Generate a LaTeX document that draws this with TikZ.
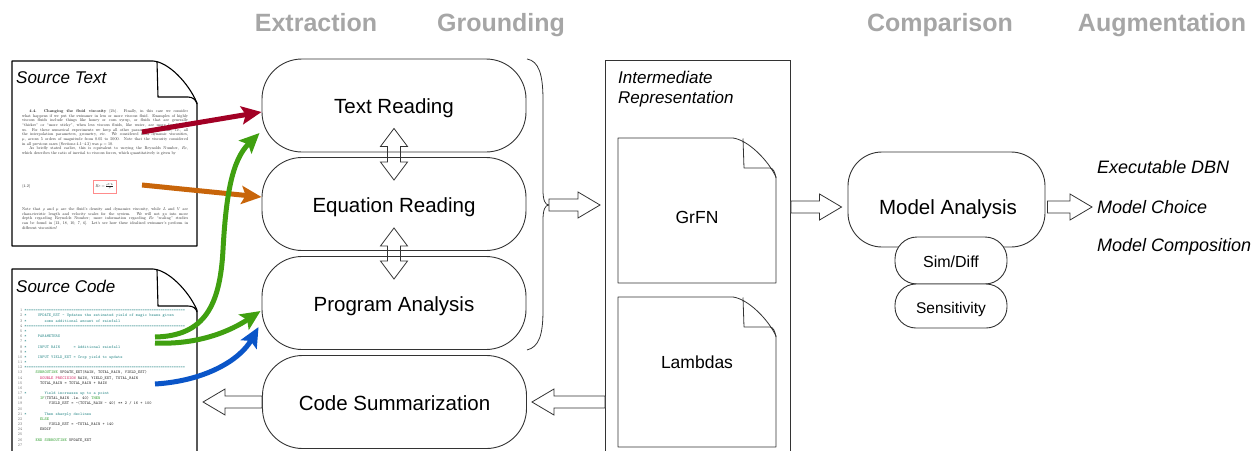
\documentclass[tikz,border=0pt]{standalone}
\usepackage{fontspec}
\usepackage{array}
\newfontfamily\arialf{Liberation Sans}
\usetikzlibrary{arrows.meta,calc}
\pgfdeclarelayer{background}
\pgfsetlayers{background,main}
\definecolor{hdr}{HTML}{A6A6A6}
\definecolor{arrred}{HTML}{A20025}
\definecolor{arrorange}{HTML}{C8650A}
\definecolor{arrgreen}{HTML}{40A010}
\definecolor{arrblue}{HTML}{0A55C8}
\definecolor{cmtc}{HTML}{2E8B8B}
\definecolor{kwg}{HTML}{2E9E2E}
\definecolor{kwr}{HTML}{D02060}
\definecolor{edge}{HTML}{333333}
\newcommand\csp[1]{\hspace*{#1\fontdimen2\font}}
\newcommand\eqten{==========}
\newcommand\eqs{\eqten\eqten\eqten\eqten\eqten\eqten\eqten=}
\newcommand\hollowh[2]{%
  \draw[hollow] let \p1=#1, \p2=#2, \n1={(\x2>\x1)?22:-22} in
    ({\x1},{\y1+6pt}) -- ({\x2-\n1*1pt},{\y1+6pt}) -- ({\x2-\n1*1pt},{\y1+13pt}) -- ({\x2},{\y1})
    -- ({\x2-\n1*1pt},{\y1-13pt}) -- ({\x2-\n1*1pt},{\y1-6pt}) -- ({\x1},{\y1-6pt}) -- cycle;}
\newcommand\hollowv[2]{%
  \draw[hollow] let \p1=#1, \p2=#2 in
    ({\x1},{\y1}) -- ({\x1+13.5pt},{\y1-18pt}) -- ({\x1+6.5pt},{\y1-18pt}) -- ({\x1+6.5pt},{\y2+18pt})
    -- ({\x1+13.5pt},{\y2+18pt}) -- ({\x1},{\y2}) -- ({\x1-13.5pt},{\y2+18pt}) -- ({\x1-6.5pt},{\y2+18pt})
    -- ({\x1-6.5pt},{\y1-18pt}) -- ({\x1-13.5pt},{\y1-18pt}) -- cycle;}
\begin{document}
\begin{tikzpicture}[x=1pt,y=-1pt,
  stage/.style={draw=edge, line width=0.9pt, rounded corners=40pt, minimum width=264pt, minimum height=93pt, inner sep=0pt, font=\arialf\fontsize{20.5}{24}\selectfont, text height=16pt, text depth=0pt},
  hdrlab/.style={anchor=base, font=\arialf\bfseries\fontsize{25}{30}\selectfont, text=hdr, inner sep=0pt},
  doclab/.style={anchor=base west, font=\arialf\itshape\fontsize{17}{20}\selectfont, inner sep=0pt},
  outlab/.style={anchor=base west, font=\arialf\itshape\fontsize{18}{21}\selectfont, inner sep=0pt},
  plainlab/.style={anchor=base, inner sep=0pt},
  tinytext/.style={inner sep=0pt, scale=0.41, transform shape, font=\fontsize{10}{11.34}\selectfont, text=black!88},
  docline/.style={draw=black, line width=1.1pt, fill=white, line join=round},
  notedoc/.style={draw=edge, line width=0.8pt, fill=white, line join=round},
  hollow/.style={draw=edge, line width=0.8pt, fill=white, line join=miter},
  flow/.style={line width=5pt, -{Stealth[length=20pt,width=18pt,inset=4pt]}},
  subbox/.style={draw=edge, line width=0.9pt, fill=white, rounded corners=21pt, minimum width=112pt, inner sep=0pt}
]
\useasboundingbox (0,0) rectangle (1256,450);

% headers
\node[hdrlab] (hx) at (316,31) {Extraction};
\node[hdrlab] (hg) at (501,31) {Grounding};
\node[hdrlab] (hc) at (940,31) {Comparison};
\node[hdrlab] (ha) at (1162,31) {Augmentation};

% source text document
\draw[docline] (12,61) -- (153,61) .. controls (168,62) and (188,82) .. (197,103) -- (197,246) -- (12,246) -- cycle;
\draw[docline, fill=none] (157,61.5) -- (158,97) -- (188,97) .. controls (193,97) and (196,100) .. (197,104);
\node[doclab] (stl) at (16,83) {Source Text};
\node[tinytext, anchor=north west, text width=405pt, align=justify] (para1) at (22,109.5) {%
\hspace*{18pt}\textbf{4.4. Changing the fluid viscosity} (2b). Finally, in this case we consider\linebreak
what happens if we put the swimmer in less or more viscous fluid. Examples of highly\linebreak
viscous fluids include things like honey or corn syrup, or fluids that are generally\linebreak
``thicker'' or ``more sticky'', when less viscous fluids, like water, are more familiar to\linebreak
us. For these numerical experiments we keep all other parameters the same, i.e., all\linebreak
the interpolation parameters, geometry, etc. We considered fluid dynamic viscosities,\linebreak
$\mu$, across 5 orders of magnitude from 0.05 to 5000. Note that the viscosity considered\linebreak
in all previous cases (Sections 4.1--4.3) was $\mu=10$.\par
\hspace*{18pt}As briefly stated earlier, this is equivalent to varying the Reynolds Number, $Re$,\linebreak
which describes the ratio of inertial to viscous forces, which quantitatively is given by};
\node[tinytext, anchor=west] (eqno) at (22,186.5) {(4.2)};
\node[draw=red!45, line width=0.6pt, minimum width=23pt, minimum height=13pt, inner sep=0pt] (eqbox) at (104.5,186.5) {};
\node[tinytext] (eqn) at (eqbox.center) {$Re=\frac{\rho VL}{\mu}$};
\node[tinytext, anchor=north west, text width=405pt, align=justify] (para2) at (22,207.5) {%
Note that $\rho$ and $\mu$ are the fluid's density and dynamics viscosity, while $L$ and $V$ are\linebreak
characteristic length and velocity scales for the system. We will not go into more\linebreak
depth regarding Reynolds Number; more information regarding $Re$ ``scaling'' studies\linebreak
can be found in [12, 18, 10, 7, 6]. Let's see how these idealized swimmer's perform in\linebreak
different viscosities!};

% source code document
\draw[docline] (12,456) -- (12,269) -- (153,269) .. controls (168,270) and (188,290) .. (197,310) -- (197,456) -- cycle;
\draw[docline, fill=none] (157,269.5) -- (158,306) -- (188,306) .. controls (193,306) and (196,308) .. (197,312);
\node[doclab] (scl) at (16,292) {Source Code};
\node[anchor=north west, inner sep=0pt, font=\fontsize{4.2}{5.17}\selectfont\ttfamily\frenchspacing, text=black!85] (code) at (17.6,308) {%
\begin{tabular}{@{}>{\color{gray}}r@{\hspace{2.2pt}}l@{}}
1 & \textcolor{cmtc}{*\eqs}\\
2 & \textcolor{cmtc}{*\csp{5}UPDATE\_EST - Updates the estimated yield of magic beans given}\\
3 & \textcolor{cmtc}{*\csp{8}some additional amount of rainfall}\\
4 & \textcolor{cmtc}{*\eqs}\\
5 & \textcolor{cmtc}{*}\\
6 & \textcolor{cmtc}{*\csp{5}PARAMETERS}\\
7 & \textcolor{cmtc}{*}\\
8 & \textcolor{cmtc}{*\csp{5}INPUT RAIN\csp{6}= Additional rainfall}\\
9 & \textcolor{cmtc}{*}\\
10 & \textcolor{cmtc}{*\csp{5}INPUT YIELD\_EST = Crop yield to update}\\
11 & \textcolor{cmtc}{*}\\
12 & \textcolor{cmtc}{*\eqs}\\
13 & \csp{5}\textcolor{kwg}{SUBROUTINE} UPDATE\_EST(RAIN, TOTAL\_RAIN, YIELD\_EST)\\
14 & \csp{7}\textcolor{kwr}{DOUBLE PRECISION} RAIN, YIELD\_EST, TOTAL\_RAIN\\
15 & \csp{7}TOTAL\_RAIN = TOTAL\_RAIN + RAIN\\
16 & \\
17 & \textcolor{cmtc}{*\csp{8}Yield increases up to a point}\\
18 & \csp{7}\textcolor{kwg}{IF}(TOTAL\_RAIN .le. 40) \textcolor{kwg}{THEN}\\
19 & \csp{11}YIELD\_EST = -(TOTAL\_RAIN - 40) ** 2 / 16 + 100\\
20 & \\
21 & \textcolor{cmtc}{*\csp{8}Then sharply declines}\\
22 & \csp{7}\textcolor{kwg}{ELSE}\\
23 & \csp{11}YIELD\_EST = -TOTAL\_RAIN + 140\\
24 & \csp{7}ENDIF\\
25 & \\
26 & \csp{5}\textcolor{kwg}{END SUBROUTINE} UPDATE\_EST\\
27 &
\end{tabular}};

% stage boxes
\node[stage] (tr) at (394,105.5) {Text Reading};
\node[stage] (er) at (394,204) {Equation Reading};
\node[stage] (pa) at (394,303) {Program Analysis};
\node[stage] (cs) at (394.5,402) {Code Summarization};
\begin{pgfonlayer}{background}
\hollowv{($(tr.south)+(0,-24)$)}{($(er.north)+(0,23)$)}
\hollowv{($(er.south)+(0,-23)$)}{($(pa.north)+(0,23)$)}
\end{pgfonlayer}

% brace
\draw[edge, line width=0.8pt] (527,59) .. controls (539,61) and (543,75) .. (543,100) -- (543,190)
  .. controls (543,200) and (545,205) .. (549,205) .. controls (545,205) and (543,210) .. (543,220)
  -- (543,310) .. controls (543,335) and (539,347) .. (527,350);
\coordinate (bt) at (549,205);

% intermediate representation
\node[draw=edge, line width=0.9pt, minimum width=185pt, minimum height=400pt, anchor=north west, inner sep=0pt] (ir) at (605,60) {};
\node[doclab] (irl1) at (618,83) {Intermediate};
\node[doclab] (irl2) at (618,103) {Representation};
\draw[notedoc] (618,138) -- (733,138) .. controls (748,140) and (768,160) .. (776,177) -- (776,283) -- (618,283) -- cycle;
\draw[notedoc, fill=none] (743,138.5) -- (744,168) -- (770,168) .. controls (773,168) and (775,172) .. (776,178);
\node[plainlab, font=\arialf\fontsize{17.5}{21}\selectfont] (grfn) at (697,223.3) {GrFN};
\draw[notedoc] (618,297) -- (733,297) .. controls (748,299) and (768,319) .. (776,336) -- (776,447) -- (618,447) -- cycle;
\draw[notedoc, fill=none] (743,297.5) -- (744,327) -- (770,327) .. controls (773,327) and (775,331) .. (776,337);
\node[plainlab, font=\arialf\fontsize{17.5}{21}\selectfont] (lam) at (697,368.3) {Lambdas};

% model analysis
\node[draw=edge, line width=0.9pt, rounded corners=34pt, minimum width=197pt, minimum height=95pt, inner sep=0pt] (ma) at (946.5,199.5) {};
\node[plainlab, font=\arialf\fontsize{20.5}{24}\selectfont] (malab) at (948,214.4) {Model Analysis};
\coordinate (maline) at (946,207);
\node[subbox, rounded corners=22pt, minimum height=47pt] (sd) at (951,260.5) {};
\node[plainlab, font=\arialf\fontsize{16}{19}\selectfont] (sdl) at (951,267.4) {Sim/Diff};
\node[subbox, minimum height=44pt] (se) at (951,306) {};
\node[plainlab, font=\arialf\fontsize{15.5}{19}\selectfont] (sel) at (951,313.8) {Sensitivity};

% outputs
\node[outlab] (o1) at (1097,173.5) {Executable DBN};
\node[outlab] (o2) at (1097,213.5) {Model Choice};
\node[outlab] (o3) at (1097,251.5) {Model Composition};
\coordinate (outtip) at (1092,207);

% hollow arrows
\hollowh{(bt)}{($(bt -| ir.west)+(-5,0)$)}
\hollowh{(ir.east |- maline)}{($(ma.west |- maline)+(-6,0)$)}
\hollowh{($(ma.east |- maline)+(2,0)$)}{(outtip)}
\hollowh{(ir.west |- cs)}{($(cs.east)+(5,0)$)}
\hollowh{(cs.west)}{($(cs.west)+(-59,0)$)}

% coloured flows
\coordinate (rs) at (142,132);
\coordinate (os) at (142,185);
\coordinate (g1s) at (155,337);
\coordinate (g2s) at (155,343);
\coordinate (bs) at (155,384);
\draw[flow, arrred] (rs) -- ($(tr.west)+(0,6.5)$);
\draw[flow, arrorange] (os) -- ($(er.west)+(0,-7)$);
\draw[flow, arrgreen] (g1s) .. controls (205,336) and (220,305) .. (223,250) .. controls (226,195) and (232,160) .. ($(tr.west)+(-2,27.5)$);
\draw[flow, arrgreen] (g2s) .. controls (200,345) and (232,330) .. ($(pa.west)+(-1,8)$);
\draw[flow, arrblue] (bs) .. controls (205,381) and (240,360) .. ($(pa.west)+(-3,24)$);
\end{tikzpicture}
\end{document}
